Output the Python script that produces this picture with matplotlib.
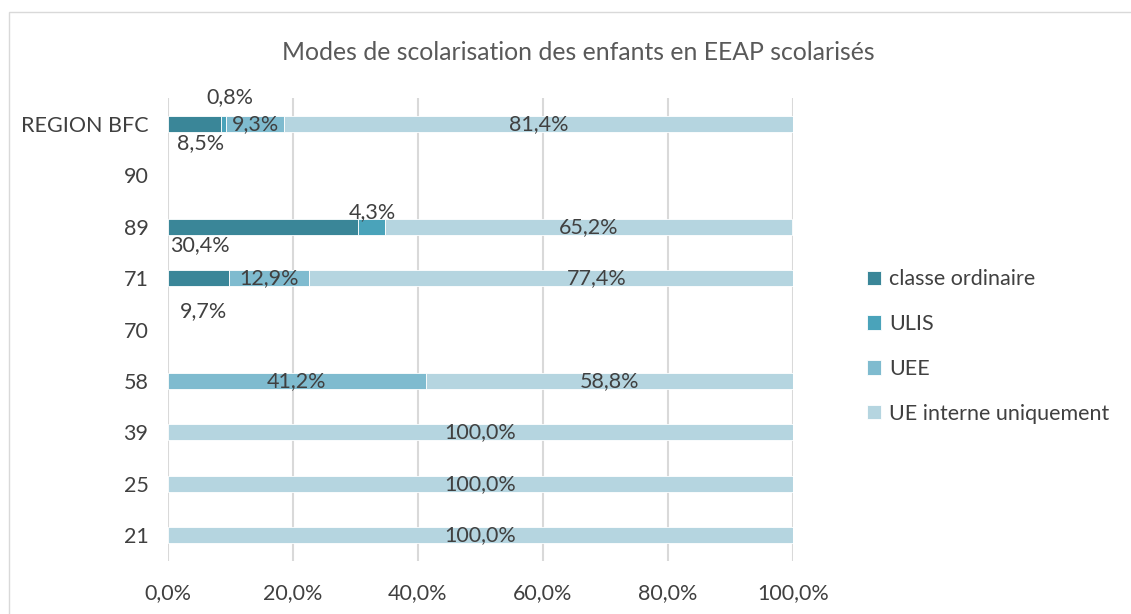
import numpy as np
import matplotlib.pyplot as plt
from matplotlib.patches import Rectangle

categories = ['21', '25', '39', '58', '70', '71', '89', '90', 'REGION BFC']
series = ['classe ordinaire', 'ULIS', 'UEE', 'UE interne uniquement']
classe = [0, 0, 0, 0, 0, 9.7, 30.4, 0, 8.5]
ulis = [0, 0, 0, 0, 0, 0, 4.3, 0, 0.8]
uee = [0, 0, 0, 41.2, 0, 12.9, 0, 0, 9.3]
ue_interne = [100.0, 100.0, 100.0, 58.8, 0, 77.4, 65.2, 0, 81.4]
colors = ['#3A8698', '#4AA3BA', '#7FBBCF', '#B5D5E0']

# label nudges in pixels (dx, dy down), like Excel moved them to avoid overlap
nudges = {
    (8, 0): (6, 19), (8, 1): (6, -27),
    (6, 0): (-63, 18), (6, 1): (1, -15),
    (5, 0): (5, 33), (5, 3): (46, 0),
}

plt.rcParams['font.family'] = ['Lato', 'DejaVu Sans']
txt = '#404040'
fs = 15.5

fig = plt.figure(figsize=(11.31, 6.14), dpi=100)
ax = fig.add_axes([168 / 1131, 1 - 561 / 614, 625 / 1131, 463 / 614])

y = np.arange(len(categories))
data = [classe, ulis, uee, ue_interne]
left = np.zeros(len(categories))
for si, (vals, col) in enumerate(zip(data, colors)):
    vals = np.array(vals)
    nz = vals > 0
    ax.barh(y[nz], vals[nz], left=left[nz], height=0.31, color=col, edgecolor='white',
            linewidth=0.6, label=series[si], zorder=3)
    for ci, v in enumerate(vals):
        if v <= 0:
            continue
        dx, dy = nudges.get((ci, si), (0, 0))
        ax.annotate(f'{v:.1f}%'.replace('.', ','), (left[ci] + v / 2, y[ci]),
                    xytext=(dx * 0.72, -dy * 0.72), textcoords='offset points',
                    ha='center', va='center', fontsize=fs, color=txt, zorder=4)
    left = left + vals

ax.set_xlim(0, 100)
ax.set_ylim(-0.5, len(categories) - 0.5)
ax.set_yticks(y)
ax.set_yticklabels(categories)
ax.set_xticks(np.arange(0, 101, 20))
ax.set_xticklabels([f'{t:.1f}%'.replace('.', ',') for t in np.arange(0, 101, 20)])
ax.tick_params(axis='both', length=0, labelsize=fs, colors=txt)
ax.tick_params(axis='x', pad=16)
ax.tick_params(axis='y', pad=14)
ax.grid(axis='x', color='#D9D9D9', linewidth=1.5, zorder=0)
for s in ax.spines.values():
    s.set_visible(False)

fig.text(578 / 1131, 1 - 52 / 614, 'Modes de scolarisation des enfants en EEAP scolarisés',
         ha='center', va='center', fontsize=17.8, color='#595959')

leg = fig.legend(loc='upper left', bbox_to_anchor=(848 / 1131, 1 - 250 / 614),
                 frameon=False, fontsize=fs, labelspacing=1.15,
                 handlelength=0.65, handleheight=0.65, handletextpad=0.35)
for t in leg.get_texts():
    t.set_color(txt)

fig.patches.append(Rectangle((9 / 1131, -0.1), 1.2, 1 - 12 / 614 + 0.1,
                             transform=fig.transFigure, fill=False,
                             edgecolor='#D9D9D9', linewidth=1))

fig.savefig('out.png', dpi=100)
